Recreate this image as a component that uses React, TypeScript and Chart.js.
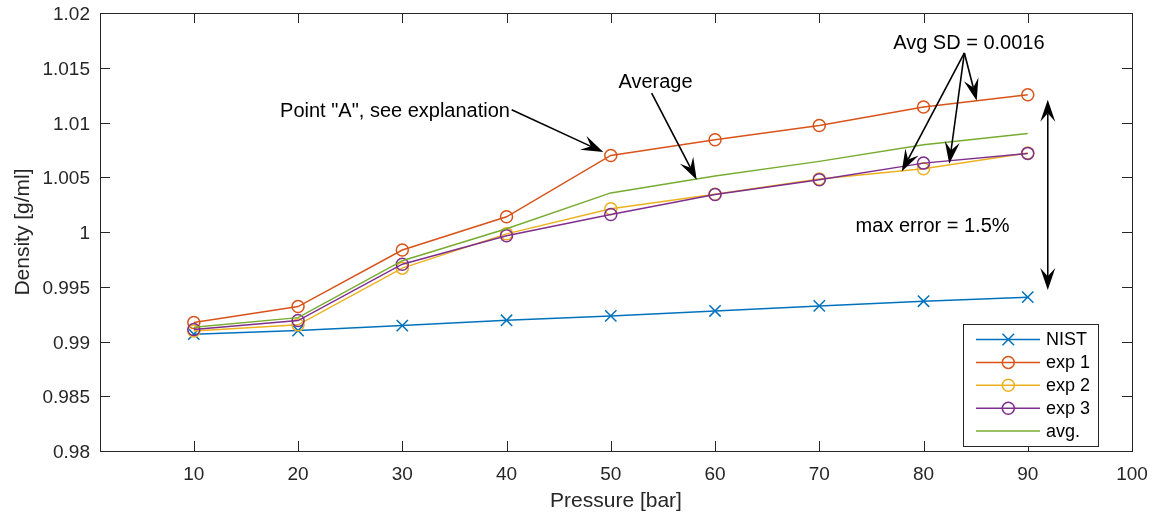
import React, { useEffect, useRef } from "react";
import { Chart, registerables } from "chart.js";

Chart.register(...registerables);

// Pressure steps [bar]
const pressure = [10, 20, 30, 40, 50, 60, 70, 80, 90];

// Density [g/ml]
const nist = [0.99067, 0.991, 0.99145, 0.99194, 0.99234, 0.99279, 0.99325, 0.99368, 0.99405];
const exp1 = [0.99173, 0.99319, 0.99835, 1.00139, 1.00699, 1.00842, 1.00973, 1.01141, 1.01254];
const exp2 = [0.99097, 0.99152, 0.9967, 0.99983, 1.00212, 1.00345, 1.00485, 1.00577, 1.00721];
const exp3 = [0.9911, 0.99191, 0.99706, 0.99965, 1.0016, 1.00342, 1.00477, 1.00629, 1.00718];
const avg = [0.99131, 0.99218, 0.99738, 1.0003, 1.00357, 1.00511, 1.00645, 1.00797, 1.009];

const xTicks = [10, 20, 30, 40, 50, 60, 70, 80, 90, 100];
const yTicks = [0.98, 0.985, 0.99, 0.995, 1, 1.005, 1.01, 1.015, 1.02];

const seriesNames = ["NIST", "exp 1", "exp 2", "exp 3", "avg."];
const seriesColors = ["#0072BD", "#D95319", "#EDB120", "#7E2F8E", "#77AC30"];
const seriesMarkers = ["cross", "circle", "circle", "circle", "none"];

// Text notes and arrows, placed in data units
const notes = [
  { text: 'Point "A", see explanation', x: 40.33, y: 1.01098, align: "right" },
  { text: "Average", x: 54.29, y: 1.01368, align: "center" },
  { text: "Avg SD = 0.0016", x: 84.35, y: 1.01726, align: "center" },
  { text: "max error = 1.5%", x: 80.87, y: 1.0005, align: "center" },
];
const arrows = [
  { from: [40.49, 1.01116], to: [49.28, 1.0073] },
  { from: [53.92, 1.01269], to: [58.24, 1.00477] },
  { from: [83.92, 1.01635], to: [77.91, 1.00553] },
  { from: [83.92, 1.01635], to: [82.47, 1.00623] },
  { from: [83.92, 1.01635], to: [85.1, 1.01199] },
];
const doubleArrow = { x: 91.92, y0: 0.99471, y1: 1.01208 };

const FONT = '"Liberation Sans", Arial, Helvetica, sans-serif';
const AXIS_COLOR = "#262626";

function drawHead(ctx: CanvasRenderingContext2D, x0: number, y0: number, x1: number, y1: number) {
  const L = 22;
  const W = 15;
  const len = Math.hypot(x1 - x0, y1 - y0);
  const ux = (x1 - x0) / len;
  const uy = (y1 - y0) / len;
  const px = -uy;
  const py = ux;
  const bx = x1 - ux * L;
  const by = y1 - uy * L;
  const nx = x1 - ux * L * 0.62;
  const ny = y1 - uy * L * 0.62;
  ctx.beginPath();
  ctx.moveTo(x1, y1);
  ctx.lineTo(bx + (px * W) / 2, by + (py * W) / 2);
  ctx.lineTo(nx, ny);
  ctx.lineTo(bx - (px * W) / 2, by - (py * W) / 2);
  ctx.closePath();
  ctx.fill();
  return [nx, ny];
}

function drawArrow(ctx: CanvasRenderingContext2D, x0: number, y0: number, x1: number, y1: number) {
  const [nx, ny] = drawHead(ctx, x0, y0, x1, y1);
  ctx.beginPath();
  ctx.moveTo(x0, y0);
  ctx.lineTo(nx, ny);
  ctx.stroke();
}

function drawMarker(ctx: CanvasRenderingContext2D, kind: string, cx: number, cy: number, color: string) {
  ctx.strokeStyle = color;
  ctx.lineWidth = 1.5;
  if (kind === "circle") {
    ctx.beginPath();
    ctx.arc(cx, cy, 6, 0, Math.PI * 2);
    ctx.stroke();
  } else if (kind === "cross") {
    const h = 5.8;
    ctx.beginPath();
    ctx.moveTo(cx - h, cy - h);
    ctx.lineTo(cx + h, cy + h);
    ctx.moveTo(cx - h, cy + h);
    ctx.lineTo(cx + h, cy - h);
    ctx.stroke();
  }
}

const decor = {
  id: "decor",
  afterDatasetsDraw(chart: any) {
    const { ctx, chartArea: a, scales } = chart;
    const xs = scales.x;
    const ys = scales.y;
    ctx.save();

    // box and inward ticks on all four sides
    ctx.strokeStyle = AXIS_COLOR;
    ctx.lineWidth = 1;
    ctx.strokeRect(Math.round(a.left) + 0.5, Math.round(a.top) + 0.5, Math.round(a.right - a.left), Math.round(a.bottom - a.top));
    const tl = 10;
    ctx.beginPath();
    for (const t of xTicks) {
      const px = Math.round(xs.getPixelForValue(t)) + 0.5;
      ctx.moveTo(px, a.bottom);
      ctx.lineTo(px, a.bottom - tl);
      ctx.moveTo(px, a.top);
      ctx.lineTo(px, a.top + tl);
    }
    for (const t of yTicks) {
      const py = Math.round(ys.getPixelForValue(t)) + 0.5;
      ctx.moveTo(a.left, py);
      ctx.lineTo(a.left + tl, py);
      ctx.moveTo(a.right, py);
      ctx.lineTo(a.right - tl, py);
    }
    ctx.stroke();

    // notes
    ctx.fillStyle = "#000";
    ctx.font = `20px ${FONT}`;
    ctx.textBaseline = "middle";
    for (const n of notes) {
      ctx.textAlign = n.align as CanvasTextAlign;
      ctx.fillText(n.text, xs.getPixelForValue(n.x), ys.getPixelForValue(n.y));
    }

    // arrows
    ctx.strokeStyle = "#000";
    ctx.fillStyle = "#000";
    ctx.lineWidth = 1.6;
    for (const ar of arrows) {
      drawArrow(
        ctx,
        xs.getPixelForValue(ar.from[0]),
        ys.getPixelForValue(ar.from[1]),
        xs.getPixelForValue(ar.to[0]),
        ys.getPixelForValue(ar.to[1])
      );
    }
    {
      const dx = xs.getPixelForValue(doubleArrow.x);
      const yb = ys.getPixelForValue(doubleArrow.y0);
      const yt = ys.getPixelForValue(doubleArrow.y1);
      const [, n1] = drawHead(ctx, dx, yt, dx, yb);
      const [, n2] = drawHead(ctx, dx, yb, dx, yt);
      ctx.beginPath();
      ctx.moveTo(dx, n2);
      ctx.lineTo(dx, n1);
      ctx.stroke();
    }

    // legend
    const bw = 135;
    const bh = 122;
    const bx = Math.round(a.right - 34 - bw) + 0.5;
    const by = Math.round(a.bottom - 5 - bh) + 0.5;
    ctx.fillStyle = "#fff";
    ctx.fillRect(bx, by, bw, bh);
    ctx.strokeStyle = AXIS_COLOR;
    ctx.lineWidth = 1;
    ctx.strokeRect(bx, by, bw, bh);
    ctx.font = `18px ${FONT}`;
    ctx.textAlign = "left";
    ctx.textBaseline = "middle";
    seriesNames.forEach((name, i) => {
      const ry = by + 15 + i * 22.9;
      ctx.strokeStyle = seriesColors[i];
      ctx.lineWidth = 1.5;
      ctx.beginPath();
      ctx.moveTo(bx + 12.5, ry);
      ctx.lineTo(bx + 76.5, ry);
      ctx.stroke();
      drawMarker(ctx, seriesMarkers[i], bx + 44.8, ry, seriesColors[i]);
      ctx.fillStyle = "#000";
      ctx.fillText(name, bx + 82.5, ry + 1);
    });

    ctx.restore();
  },
};

function zeroPadding(s: any) {
  s.paddingTop = 0;
  s.paddingBottom = 0;
  s.paddingLeft = 0;
  s.paddingRight = 0;
}

export default function App() {
  const canvasRef = useRef<HTMLCanvasElement | null>(null);

  useEffect(() => {
    const canvas = canvasRef.current;
    if (!canvas) return;

    const series = [nist, exp1, exp2, exp3, avg];
    const datasets = series.map((vals, i) => {
      const marker = seriesMarkers[i];
      return {
        label: seriesNames[i],
        data: pressure.map((p, k) => ({ x: p, y: vals[k] })),
        borderColor: seriesColors[i],
        backgroundColor: "rgba(0,0,0,0)",
        borderWidth: 1.5,
        pointStyle: marker === "cross" ? "crossRot" : "circle",
        pointRadius: marker === "none" ? 0 : marker === "cross" ? 8 : 6,
        pointBorderWidth: 1.5,
        pointBorderColor: seriesColors[i],
        pointBackgroundColor: "rgba(0,0,0,0)",
        tension: 0,
        order: series.length - i,
      };
    });

    const chart = new Chart(canvas, {
      type: "line",
      data: { datasets },
      options: {
        animation: false,
        responsive: false,
        events: [],
        layout: { padding: { top: 13, right: 25, left: 0, bottom: 0 } },
        plugins: {
          legend: { display: false },
          tooltip: { enabled: false },
        },
        scales: {
          x: {
            type: "linear",
            min: 1,
            max: 100,
            grid: { display: false, drawTicks: false },
            border: { display: false },
            afterBuildTicks: (s: any) => {
              s.ticks = xTicks.map((v) => ({ value: v }));
            },
            afterFit: (s: any) => {
              s.height = 66;
              zeroPadding(s);
            },
            ticks: {
              autoSkip: false,
              maxRotation: 0,
              padding: 12,
              color: AXIS_COLOR,
              font: { family: FONT, size: 19 },
              callback: (v: any) => String(v),
            },
            title: {
              display: true,
              text: "Pressure [bar]",
              color: AXIS_COLOR,
              font: { family: FONT, size: 21 },
              padding: { top: 0, bottom: 3 },
            },
          },
          y: {
            type: "linear",
            min: 0.98,
            max: 1.02,
            grid: { display: false, drawTicks: false },
            border: { display: false },
            afterBuildTicks: (s: any) => {
              s.ticks = yTicks.map((v) => ({ value: v }));
            },
            afterFit: (s: any) => {
              s.width = 100;
              zeroPadding(s);
            },
            ticks: {
              autoSkip: false,
              padding: 10,
              labelOffset: 2,
              color: AXIS_COLOR,
              font: { family: FONT, size: 19 },
              callback: (v: any) => String(parseFloat(Number(v).toFixed(3))),
            },
            title: {
              display: true,
              text: "Density [g/ml]",
              color: AXIS_COLOR,
              font: { family: FONT, size: 21 },
              padding: { top: 11, bottom: 0 },
            },
          },
        },
      },
      plugins: [decor],
    } as any);

    return () => {
      chart.destroy();
    };
  }, []);

  return (
    <div style={{ position: "absolute", left: 0, top: 0, width: 1157, height: 517, background: "#fff" }}>
      <canvas ref={canvasRef} width={1157} height={517} />
    </div>
  );
}
